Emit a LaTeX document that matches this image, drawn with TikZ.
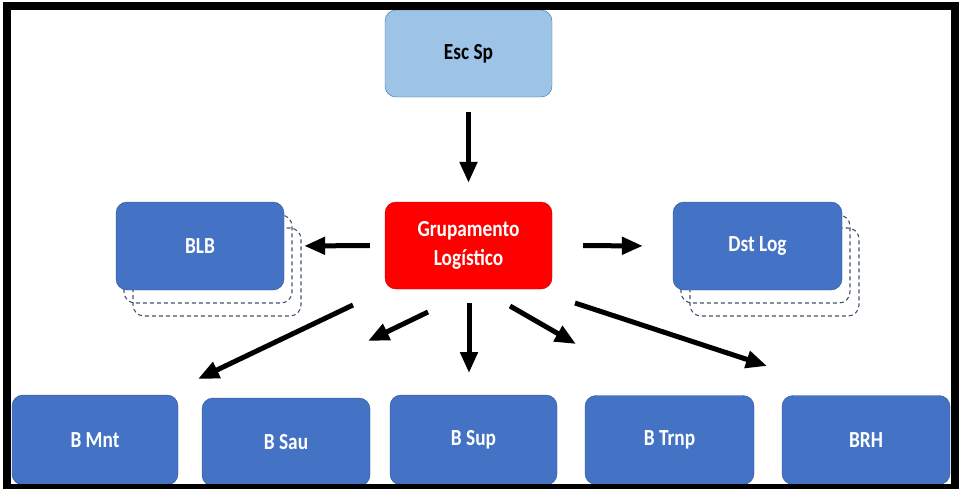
\documentclass[tikz,border=0pt]{standalone}
\usepackage{fontspec}
\setmainfont{Carlito}[FakeStretch=0.84]
\usetikzlibrary{arrows.meta}
\definecolor{boxblue}{HTML}{4472C4}
\definecolor{boxline}{HTML}{2F528F}
\definecolor{lightblue}{HTML}{9DC3E6}
\definecolor{lightline}{HTML}{41719C}
\definecolor{grpred}{HTML}{FF0000}
\definecolor{grpline}{HTML}{C00000}
\definecolor{copyline}{HTML}{44546A}
\tikzset{
  unit/.style={draw=boxline,fill=boxblue,rounded corners=11pt,text=white,
    font=\fontsize{23}{29}\selectfont\bfseries,align=center,inner sep=0pt},
  unitcopy/.style={draw=copyline,dash pattern=on 4pt off 3pt,line width=1.1pt,rounded corners=11pt},
  arr/.style={line width=5pt,-{Triangle[length=21pt,width=17pt]}}
}
\begin{document}
\begin{tikzpicture}[x=1pt,y=-1pt]
      \useasboundingbox (0,0) rectangle (959,488);
      % copies behind BLB and Dst Log
      \draw[unitcopy] (133,228) rectangle (301,316);
      \draw[unitcopy] (124,215) rectangle (292,303);
      \draw[unitcopy] (690,228) rectangle (859,316);
      \draw[unitcopy] (681,215) rectangle (850,303);
      % nodes
      \node[unit,fill=lightblue,draw=lightline,text=black,minimum width=167pt,minimum height=87pt] (escsp) at (468.5,53.5) {Esc Sp};
      \node[unit,fill=grpred,draw=grpline,minimum width=167pt,minimum height=87pt] (grp) at (468.5,245.5) {Grupamento\\Logístico};
      \node[unit,minimum width=168pt,minimum height=88pt] (blb) at (200,246) {BLB};
      \node[unit,minimum width=169pt,minimum height=88pt] (dstlog) at (757.5,246) {Dst Log};
      \node[unit,minimum width=166pt,minimum height=90pt] (bmnt) at (95,440) {B Mnt};
      \node[unit,minimum width=168pt,minimum height=88pt] (bsau) at (286,442) {B Sau};
      \node[unit,minimum width=167pt,minimum height=90pt] (bsup) at (473.5,440) {B Sup};
      \node[unit,minimum width=169pt,minimum height=89pt] (btrnp) at (669.5,440) {B Trnp};
      \node[unit,minimum width=168pt,minimum height=89pt] (brh) at (866,440) {BRH};
      % arrow ends
      \coordinate (mntfrom) at (353,305);
      \coordinate (mntto) at (198,379);
      \coordinate (saufrom) at (428,312);
      \coordinate (sauto) at (368,341);
      \coordinate (supfrom) at (469,303);
      \coordinate (supto) at (469,373);
      \coordinate (trnpfrom) at (510,306);
      \coordinate (trnpto) at (576,344);
      \coordinate (brhfrom) at (575,303);
      \coordinate (brhto) at (767,366);
      % arrows
      \draw[arr,shorten <=15pt,shorten >=19pt] (escsp.south) -- (grp.north);
      \draw[arr,shorten <=15pt,shorten >=20pt] (grp.west) -- (blb.east);
      \draw[arr,shorten <=31pt,shorten >=30pt] (grp.east) -- (dstlog.west);
      \draw[arr] (mntfrom) -- (mntto);
      \draw[arr] (saufrom) -- (sauto);
      \draw[arr] (supfrom) -- (supto);
      \draw[arr] (trnpfrom) -- (trnpto);
      \draw[arr] (brhfrom) -- (brhto);
      % frame
      \draw[line width=8pt] (7,6) rectangle (955,488);
\end{tikzpicture}
\end{document}
